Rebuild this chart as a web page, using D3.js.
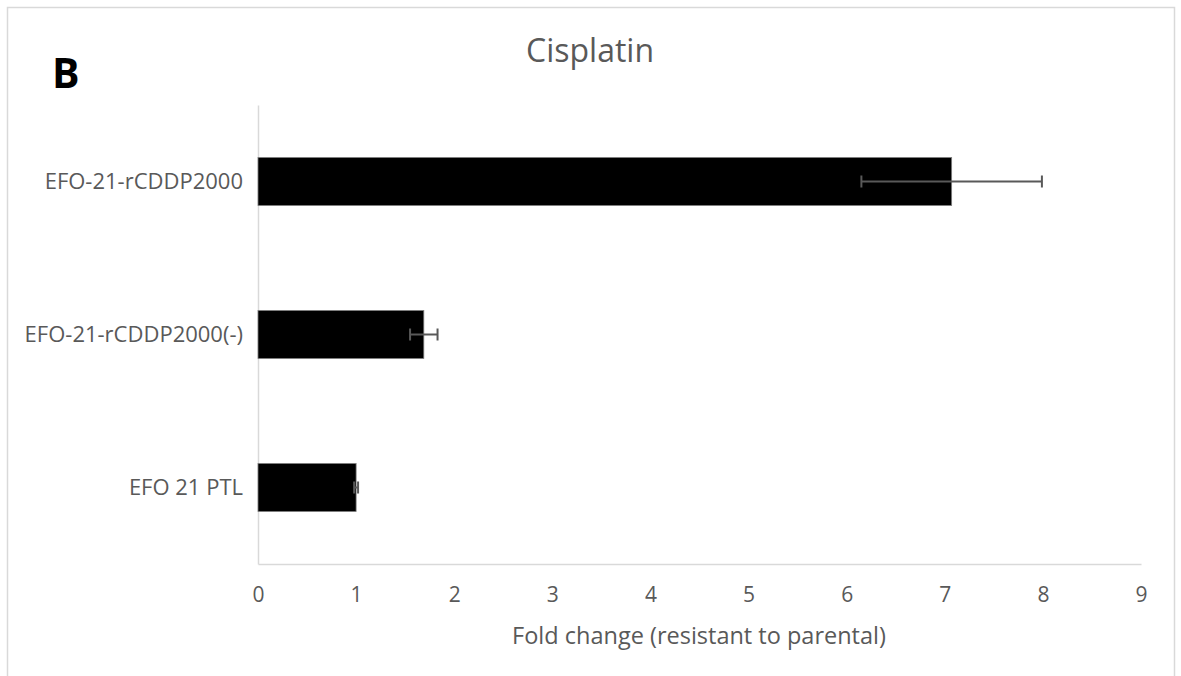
<!DOCTYPE html>
<html>
<head>
<meta charset="utf-8">
<script src="https://cdn.jsdelivr.net/npm/d3@7"></script>
<style>
  html, body { margin: 0; padding: 0; background: #fff; }
  svg { display: block; font-family: "Open Sans", sans-serif; }
</style>
</head>
<body>
<svg id="chart" width="1181" height="676"></svg>
<script>
const categories = ["EFO-21-rCDDP2000", "EFO-21-rCDDP2000(-)", "EFO 21 PTL"];
const values = [7.07, 1.69, 1.0];
const errors = [0.92, 0.14, 0.02];
const xTicks = [0, 1, 2, 3, 4, 5, 6, 7, 8, 9];
const title = "Cisplatin";
const panelLabel = "B";
const xTitle = "Fold change (resistant to parental)";

(function () {
const data = categories.map((c, i) => ({ cat: c, v: values[i], e: errors[i] }));

const svg = d3.select("#chart");
const grey = "#595959";
const lineGrey = "#d9d9d9";

// outer frame
svg.append("rect")
  .attr("x", 7.5).attr("y", 7.5)
  .attr("width", 1167).attr("height", 700)
  .attr("fill", "none").attr("stroke", lineGrey).attr("stroke-width", 1.5);

const pLeft = 258, pRight = 1141, pTop = 105, pBottom = 564;

const x = d3.scaleLinear().domain([0, 9]).range([pLeft, pRight]);
const y = d3.scaleBand().domain(categories).range([pTop, pBottom])
  .paddingInner(0.686).paddingOuter(0.343);

// axes
const xAxis = d3.axisBottom(x).tickValues(xTicks).tickSize(0).tickPadding(0).tickFormat(d3.format("d"));
const gx = svg.append("g").attr("transform", `translate(0,${pBottom})`).call(xAxis);
gx.select(".domain").attr("stroke", lineGrey).attr("stroke-width", 1.5);
gx.selectAll("text").attr("fill", grey).attr("font-size", 21)
  .attr("font-family", "Open Sans, sans-serif").attr("dy", null).attr("y", 38);

const yAxis = d3.axisLeft(y).tickSize(0).tickPadding(15);
const gy = svg.append("g").attr("transform", `translate(${pLeft},0)`).call(yAxis);
gy.select(".domain").attr("stroke", lineGrey).attr("stroke-width", 1.5);
gy.selectAll("text").attr("fill", grey).attr("font-size", 22)
  .attr("font-family", "Open Sans, sans-serif");

// bars
svg.append("g").selectAll("rect").data(data).join("rect")
  .attr("x", x(0))
  .attr("y", d => y(d.cat))
  .attr("width", d => x(d.v) - x(0))
  .attr("height", y.bandwidth())
  .attr("fill", "#000")
  .attr("stroke", "#7f7f7f").attr("stroke-width", 0.8);

// error bars
const eg = svg.append("g").attr("stroke", grey).attr("stroke-width", 2);
data.forEach(d => {
  const cy = y(d.cat) + y.bandwidth() / 2;
  eg.append("line").attr("x1", x(d.v - d.e)).attr("x2", x(d.v + d.e)).attr("y1", cy).attr("y2", cy);
  eg.append("line").attr("x1", x(d.v - d.e)).attr("x2", x(d.v - d.e)).attr("y1", cy - 6).attr("y2", cy + 6);
  eg.append("line").attr("x1", x(d.v + d.e)).attr("x2", x(d.v + d.e)).attr("y1", cy - 6).attr("y2", cy + 6);
});

// title
svg.append("text").attr("x", 590).attr("y", 62).attr("text-anchor", "middle")
  .attr("font-size", 32).attr("fill", grey).text(title);

// panel label
svg.append("text").attr("x", 52).attr("y", 88)
  .attr("font-size", 41).attr("font-weight", "bold").attr("fill", "#000").text(panelLabel);

// x axis title
svg.append("text").attr("x", 699).attr("y", 644).attr("text-anchor", "middle")
  .attr("font-size", 23.5).attr("fill", grey).text(xTitle);
})();
</script>
</body>
</html>
